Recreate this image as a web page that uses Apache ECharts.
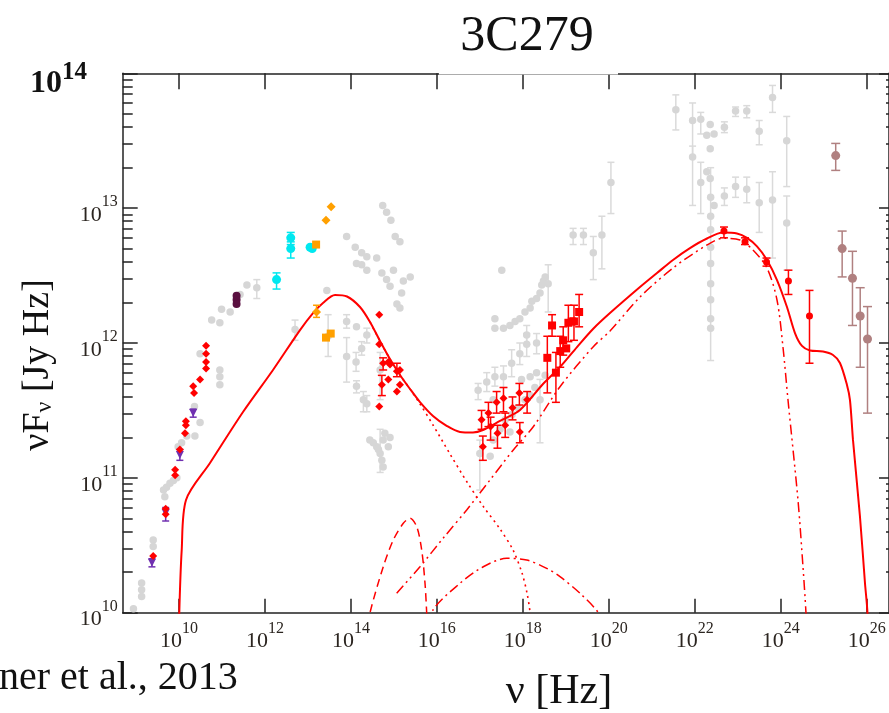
<!DOCTYPE html>
<html><head><meta charset="utf-8">
<script src="https://cdn.jsdelivr.net/npm/echarts@6/dist/echarts.min.js"></script>
<style>html,body{margin:0;padding:0;background:#fff}#c{width:889px;height:713px}</style>
</head><body><div id="c"></div>
<script>
// All values are log10 exponents: [log10(nu/Hz), log10(nuFnu/Jy Hz), (errLow), (errHigh)]
const xTickExps = [10, 12, 14, 16, 18, 20, 22, 24, 26];
const yTickExps = [10, 11, 12, 13];
const yMajorExps = [10, 11, 12, 13, 14];

const greyPts = [
 [8.94,10.03],[9.13,10.22],[9.13,10.17],[9.13,10.12],[9.40,10.54],[9.40,10.49],
 [9.64,10.91],[9.67,10.86],[9.71,10.93],[9.79,10.96],[9.87,10.98],[9.95,11.00],
 [9.98,11.23],[10.06,11.26],[10.18,11.31],[10.37,11.31],[10.49,11.41],[10.36,11.53],
 [10.49,11.92],[10.76,12.17],[10.95,12.15],[10.99,12.25],[11.19,12.23],[11.42,12.36],[11.58,12.43],
 [11.81,12.41,12.33,12.47],[10.95,11.80],[10.95,11.75],[10.95,11.69],
 [12.70,12.10,12.02,12.17],[13.44,12.39],[13.47,12.05,11.90,12.21],
 [13.90,12.79],[14.10,12.71],[14.25,12.67],[14.37,12.64],[14.13,12.59],[14.25,12.58],[14.37,12.54],
 [14.60,12.63],[14.74,13.02],[14.83,12.97],[14.93,12.91],[15.03,12.79],[15.14,12.75],[14.72,12.52],
 [14.83,12.47],[14.99,12.54],[14.91,12.42],[15.22,12.46],[15.38,12.49],[15.18,12.37],[15.07,12.29],[15.14,12.26],
 [13.90,12.16,12.11,12.21],[14.13,12.12],[14.37,12.06,12.00,12.11],[14.25,11.96,11.91,12.01],
 [13.90,11.90,11.71,12.04],[14.12,11.86,11.79,11.93],[14.13,11.68,11.63,11.72],[14.29,11.58,11.49,11.64],
 [14.37,11.55,11.49,11.61],[14.68,11.80,11.58,11.93],
 [14.44,11.28],[14.60,11.23],[14.75,11.28],[14.91,11.30],[14.68,11.18,11.04,11.36],[14.72,11.13],
 [14.75,11.08],[14.79,11.33],[14.87,11.23],[14.52,11.26],[14.64,11.21],
 [17.51,12.54],[17.35,12.18],[17.35,12.11],[17.55,12.11],[17.70,12.13],[17.82,12.16],[17.93,12.18],
 [18.05,12.23],[18.17,12.26],[18.21,12.31],[18.32,12.33],[18.40,12.37],[18.44,12.43],[18.48,12.46],
 [18.52,12.49],[18.59,12.44,12.23,12.58],
 [16.96,11.65,11.58,11.70],[17.16,11.71,11.64,11.78],[17.35,11.75,11.68,11.82],[17.55,11.75,11.67,11.83],
 [17.74,11.85,11.75,11.95],[17.93,11.92,11.84,12.00],[18.09,11.99,11.90,12.07],[18.09,12.06,11.99,12.13],
 [18.32,12.00,11.92,12.07],[17.97,11.73],[18.17,11.75],[18.32,11.78],[18.40,11.58,11.26,11.73],
 [17.31,11.58],[17.24,11.16],[17.31,11.28],[17.00,11.18,10.91,11.28],
 [17.59,11.43],[17.75,11.47],[17.89,11.52],[18.05,11.58],[18.17,11.61],[18.28,11.67],[18.52,11.76],
 [17.47,11.36],[17.70,11.34],
 [19.17,12.80,12.73,12.85],[19.41,12.80,12.73,12.85],[19.64,12.67,12.47,12.79],[19.84,12.80,12.55,12.94],
 [20.05,13.19,12.96,13.34],
 [21.56,13.73,13.58,13.84],[21.95,13.65,13.38,13.78],[22.14,13.66,13.55,13.71],[22.28,13.54],[22.36,13.62],
 [22.45,13.55],[22.36,13.44],[22.69,13.60,13.56,13.64],[22.95,13.72,13.68,13.75],[23.21,13.72,13.67,13.76],
 [23.50,13.57,13.47,13.65],[23.81,13.82,13.71,13.91],[24.14,13.50,13.16,13.68],
 [21.95,13.38,13.02,13.46],[22.14,13.19,12.96,13.34],[22.28,13.27],[22.36,13.22],[22.45,13.02],
 [22.69,13.09,13.02,13.15],[22.95,13.16,13.08,13.23],[23.21,13.14,13.04,13.23],[23.50,13.04,12.82,13.19],
 [23.81,13.06,12.63,13.27],[24.14,12.89,12.54,13.09],
 [22.37,13.08],[22.37,12.94],[22.37,12.84],[22.37,12.71],[22.37,12.59],[22.37,12.44],[22.37,12.32],
 [22.37,12.18],[22.37,12.11,11.87,13.30]
];

const redDiamonds = [
 [9.40,10.42],[9.69,10.77],[9.69,10.73],[9.91,11.06],[9.91,11.02],[10.02,11.21],[10.16,11.39],
 [10.16,11.42],[10.14,11.33],[10.33,11.68],[10.35,11.63],[10.49,11.73],[10.63,11.81],[10.63,11.86],
 [10.63,11.92],[10.63,11.98],
 [14.66,12.21],[14.66,11.99],[14.66,11.53],[14.75,11.85,11.80,11.89],[14.87,11.86],[14.91,11.84],
 [14.72,11.69,11.61,11.76],[14.87,11.73],[15.07,11.79,11.75,11.85],[15.14,11.80],[15.07,11.64],[15.14,11.69],
 [17.04,11.43,11.36,11.50],[17.07,11.23,11.13,11.31],[17.20,11.48,11.38,11.56],[17.25,11.38,11.28,11.45],
 [17.39,11.56,11.48,11.64],[17.41,11.33,11.22,11.39],[17.55,11.59,11.49,11.67],[17.59,11.39,11.30,11.48],
 [17.76,11.52,11.43,11.60],[17.92,11.63,11.54,11.70],[17.93,11.34,11.26,11.41],[18.10,11.58,11.48,11.64]
];
const redSquares = [
 [18.57,11.89,11.63,12.05],[18.68,12.13,12.05,12.21],[18.77,11.78,11.56,11.93],[18.87,11.94,11.82,12.05],
 [18.94,12.02,11.91,12.12],[19.01,11.96],[19.06,12.15,12.01,12.28],[19.14,12.16],[19.19,12.16,12.02,12.28],
 [19.31,12.23,12.12,12.36]
];
const redGamma = [
 [22.68,12.83,12.78,12.86],[23.17,12.75,12.73,12.78],[23.67,12.60,12.57,12.63],
 [24.18,12.46,12.36,12.54],[24.67,12.20,11.85,12.39]
];
const vhePts = [
 [25.28,13.39,13.28,13.48],[25.43,12.70,12.49,12.83],[25.67,12.48,12.13,12.68],
 [25.85,12.20,11.82,12.41],[26.02,12.03,11.48,12.27]
];
const purplePts = [[9.37,10.37,10.34,10.40],[9.69,10.74,10.68,10.78],[10.02,11.17,11.13,11.21],[10.33,11.48,11.45,11.51]];
const maroonPts = [[11.34,12.32],[11.34,12.35],[11.34,12.29]];
const cyanPts = [[12.60,12.78,12.73,12.82],[12.60,12.70,12.63,12.75],[12.27,12.47,12.40,12.52],[13.05,12.71],[13.10,12.70]];
const orangeDiamonds = [[13.54,13.01],[13.42,12.91],[13.20,12.23,12.19,12.28]];
const orangeSquares = [[13.19,12.73],[13.42,12.04],[13.53,12.07]];

const totalModel = [[9.995,9.65],[10.007,10.0],[10.063,10.465],[10.163,10.836],[10.721,11.110],[11.489,11.488],
 [12.187,11.800],[12.815,12.096],[13.118,12.222],[13.350,12.297],[13.630,12.356],[13.909,12.345],[14.211,12.267],
 [14.444,12.156],[14.677,12.015],[14.909,11.881],[15.142,11.763],[15.375,11.659],[15.607,11.562],[15.910,11.459],
 [16.236,11.384],[16.538,11.340],[16.840,11.336],[17.073,11.355],[17.469,11.422],[17.934,11.503],[18.469,11.696],
 [18.865,11.822],[19.260,11.970],[19.633,12.104],[20.028,12.222],[20.726,12.415],[21.122,12.519],[21.494,12.616],
 [21.889,12.704],[22.285,12.775],[22.657,12.819],[22.983,12.812],[23.216,12.779],[23.448,12.716],[23.681,12.616],
 [23.914,12.467],[24.146,12.267],[24.332,12.074],[24.495,11.978],[24.681,11.944],[24.984,11.937],[25.217,11.911],
 [25.379,11.852],[25.542,11.689],[25.612,11.577],[25.682,11.281],[25.845,10.710],[25.961,10.220],[26.019,9.998],[26.03,9.72]];
const synchModel = [[14.444,12.156],[14.677,12.015],[14.909,11.881],[15.142,11.763],[15.375,11.659],[15.607,11.548],
 [15.910,11.392],[16.305,11.177],[16.701,10.969],[17.073,10.791],[17.469,10.621],[17.771,10.465],[17.981,10.294],
 [18.097,10.146],[18.167,10.0],[18.19,9.80]];
const diskModel = [[14.42,9.91],[14.444,10.0],[14.753,10.341],[14.986,10.539],[15.219,10.663],[15.375,10.700],
 [15.531,10.638],[15.647,10.465],[15.724,10.218],[15.763,10.0],[15.78,9.87]];
const sscModel = [[15.86,9.91],[15.910,10.020],[16.538,10.218],[17.080,10.341],[17.625,10.403],[18.090,10.391],
 [18.555,10.329],[18.865,10.267],[19.330,10.144],[19.756,10.0],[19.82,9.91]];
const ecModel = [[15.065,10.144],[15.607,10.341],[16.150,10.554],[16.694,10.762],[17.236,10.984],[17.778,11.207],
 [18.243,11.379],[18.865,11.676],[19.640,11.973],[20.028,12.089],[20.726,12.341],[21.494,12.556],[22.285,12.727],
 [22.657,12.776],[23.053,12.764],[23.355,12.690],[23.681,12.556],[23.914,12.319],[24.053,11.970],[24.170,11.577],
 [24.402,10.836],[24.519,10.339],[24.588,10.0],[24.60,9.87]];

const SERIF = '"Liberation Serif", "DejaVu Serif", serif';
const AX = '#222';
const tickRich = {
  b: {fontFamily: SERIF, fontSize: 22, color: '#2b2520', padding: [14, 0, 0, 0]},
  s: {fontFamily: SERIF, fontSize: 16, color: '#2b2520', padding: [0, 0, 12, 0]}
};
function expLabel(v) { return '{b|10}{s|' + Math.round(v) + '}'; }
const minorExps = [];
for (let d = 10; d < 14; d++) for (let k = 2; k <= 9; k++) minorExps.push(d + Math.log10(k));

function errSeries(data, color, cap, z) {
  return {
    type: 'custom', z: z, silent: true,
    data: data.filter(d => d.length > 3),
    encode: {x: 0, y: [1, 2, 3]},
    renderItem: function (params, api) {
      const x = api.value(0), lo = api.value(2), hi = api.value(3);
      const a = api.coord([x, lo]), b = api.coord([x, hi]);
      const st = {stroke: color, lineWidth: 1.5};
      return {type: 'group', children: [
        {type: 'line', shape: {x1: a[0], y1: a[1], x2: b[0], y2: b[1]}, style: st},
        {type: 'line', shape: {x1: a[0] - cap, y1: a[1], x2: a[0] + cap, y2: a[1]}, style: st},
        {type: 'line', shape: {x1: b[0] - cap, y1: b[1], x2: b[0] + cap, y2: b[1]}, style: st}
      ]};
    }
  };
}
function pts(data, color, symbol, size, z, rot) {
  return {type: 'scatter', z: z, silent: true, symbol: symbol, symbolSize: size, symbolRotate: rot || 0,
    itemStyle: {color: color, opacity: 1}, data: data.map(d => [d[0], d[1]])};
}
function curve(data, dash, width) {
  return {type: 'line', z: 6, silent: true, showSymbol: false, smooth: 0.3, data: data,
    lineStyle: {color: '#ff0000', width: width, type: dash}};
}

const chart = echarts.init(document.getElementById('c'), null, {renderer: 'canvas'});
const yBase = {type: 'value', min: 10, max: 14, splitLine: {show: false}};
chart.setOption({
  animation: false,
  backgroundColor: '#fff',
  grid: {left: 122.7, top: 73.3, right: 0, bottom: 100.3, containLabel: false, outerBoundsMode: 'none'},
  xAxis: [
    {type: 'value', min: 8.69, max: 26.52, position: 'bottom', splitLine: {show: false},
     axisLine: {show: true, onZero: false, lineStyle: {color: AX, width: 1.5}},
     axisTick: {show: true, inside: true, length: 14, customValues: xTickExps, lineStyle: {color: AX, width: 1.5}},
     axisLabel: {show: true, customValues: xTickExps, formatter: expLabel, rich: tickRich, margin: 4}},
    {type: 'value', min: 8.69, max: 26.52, position: 'top', splitLine: {show: false},
     axisLine: {show: true, onZero: false, lineStyle: {color: AX, width: 1.5}},
     axisTick: {show: true, inside: true, length: 16, customValues: xTickExps, lineStyle: {color: AX, width: 1.5}},
     axisLabel: {show: false}}
  ],
  yAxis: [
    Object.assign({}, yBase, {position: 'left',
     axisLine: {show: true, onZero: false, lineStyle: {color: AX, width: 1.5}},
     axisTick: {show: true, inside: true, length: 15, customValues: yMajorExps, lineStyle: {color: AX, width: 1.5}},
     axisLabel: {show: true, customValues: yTickExps, formatter: expLabel, rich: tickRich, margin: 5}}),
    Object.assign({}, yBase, {position: 'left', axisLine: {show: false},
     axisTick: {show: true, inside: true, length: 10, customValues: minorExps, lineStyle: {color: AX, width: 1.5}},
     axisLabel: {show: false}}),
    Object.assign({}, yBase, {position: 'right',
     axisLine: {show: true, onZero: false, lineStyle: {color: AX, width: 1.5}},
     axisTick: {show: true, inside: true, length: 10, customValues: yMajorExps, lineStyle: {color: AX, width: 1.5}},
     axisLabel: {show: false}}),
    Object.assign({}, yBase, {position: 'right', axisLine: {show: false},
     axisTick: {show: true, inside: true, length: 3, customValues: minorExps, lineStyle: {color: AX, width: 1.5}},
     axisLabel: {show: false}})
  ],
  series: [
    errSeries(greyPts, '#dadada', 3.5, 1),
    pts(greyPts, '#d6d6d6', 'circle', 7.5, 2),
    curve(totalModel, 'solid', 2),
    curve(synchModel, [2, 4], 1.6),
    curve(diskModel, [8, 5], 1.5),
    curve(sscModel, [10, 4, 2, 4], 1.5),
    curve(ecModel, [10, 4, 2, 4, 2, 4], 1.5),
    errSeries(purplePts, '#7030b0', 3.5, 7),
    pts(purplePts, '#7030b0', 'triangle', 8, 8, 180),
    pts(maroonPts, '#5a1040', 'circle', 8, 8),
    errSeries(cyanPts, '#00e8f0', 4, 7),
    pts(cyanPts, '#00e8f0', 'circle', 9, 8),
    errSeries(orangeDiamonds, '#ffa000', 3.5, 7),
    pts(orangeDiamonds, '#ffa000', 'diamond', 9, 8),
    pts(orangeSquares, '#ffa000', 'rect', 8, 8),
    errSeries(vhePts, '#b08080', 4.5, 7),
    pts(vhePts, '#b08080', 'circle', 9, 8),
    errSeries(redDiamonds, '#ff0000', 4, 9),
    pts(redDiamonds, '#ff0000', 'diamond', 8, 10),
    errSeries(redSquares, '#ff0000', 4, 9),
    pts(redSquares, '#ff0000', 'rect', 8, 10),
    errSeries(redGamma, '#ff0000', 4, 9),
    pts(redGamma, '#ff0000', 'circle', 7, 10)
  ],
  graphic: [
    {type: 'rect', z: 100, shape: {x: 439, y: 0, width: 179, height: 74.5}, style: {fill: '#fff'}},
    {type: 'text', z: 101, x: 527, y: 37, style: {text: '3C279', fontFamily: SERIF, fontSize: 50, fill: '#111', align: 'center', verticalAlign: 'middle'}},
    {type: 'text', z: 101, x: 30, y: 77, style: {text: '{b|10}{s|14}', align: 'left', verticalAlign: 'middle',
      rich: {b: {fontFamily: SERIF, fontSize: 32, fontWeight: 'bold', fill: '#111', padding: [14, 0, 0, 0]},
             s: {fontFamily: SERIF, fontSize: 25, fontWeight: 'bold', fill: '#111', padding: [0, 0, 8, 0]}}}},
    {type: 'text', z: 101, x: 38, y: 365, rotation: Math.PI / 2, style: {text: '{a|νF}{s|ν}{a| [Jy Hz]}', align: 'center', verticalAlign: 'middle',
      rich: {a: {fontFamily: SERIF, fontSize: 38, fill: '#111'}, s: {fontFamily: SERIF, fontSize: 24, fill: '#111', padding: [14, 0, 0, 0]}}}},
    {type: 'text', z: 101, x: 559, y: 692, style: {text: 'ν [Hz]', fontFamily: SERIF, fontSize: 42, fill: '#111', align: 'center', verticalAlign: 'middle'}},
    {type: 'text', z: 101, x: -1, y: 678, style: {text: 'ner et al., 2013', fontFamily: SERIF, fontSize: 40, fill: '#111', align: 'left', verticalAlign: 'middle'}}
  ]
});
</script>
</body></html>
